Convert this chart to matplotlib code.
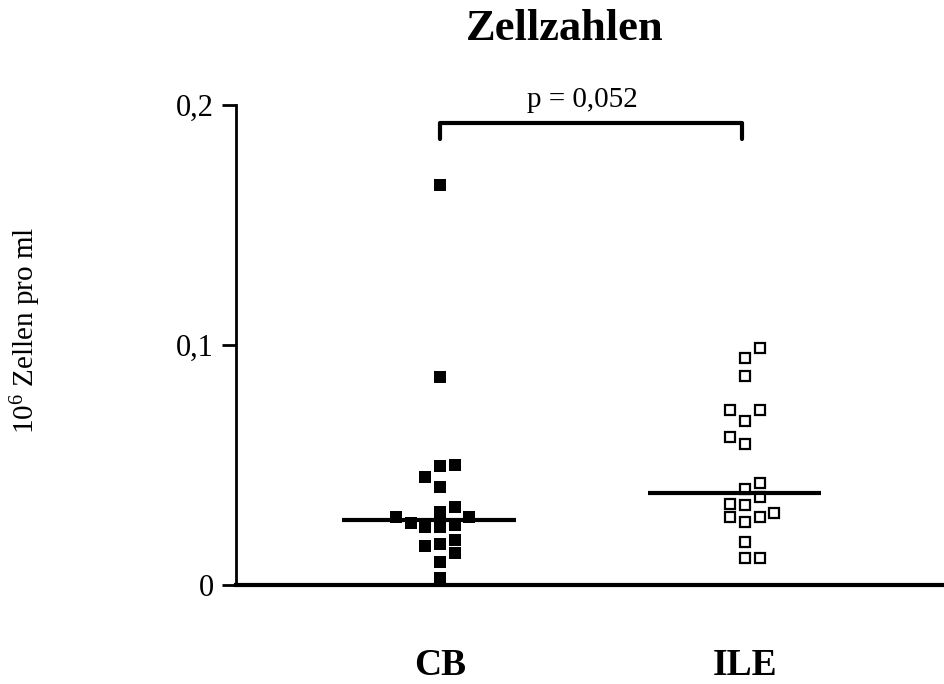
import matplotlib
matplotlib.use('Agg')
import matplotlib.pyplot as plt
import numpy as np

plt.rcParams['font.family'] = 'Liberation Serif'
plt.rcParams['mathtext.fontset'] = 'custom'
plt.rcParams['mathtext.rm'] = 'Liberation Serif'
plt.rcParams['mathtext.it'] = 'Liberation Serif:italic'

groups = ['CB', 'ILE']

# cell counts (10^6 cells per ml)
cb_values = [0.1667, 0.0867, 0.0500, 0.0496, 0.0450, 0.0410, 0.0325, 0.0304,
             0.0283, 0.0283, 0.0260, 0.0240, 0.0240, 0.0250, 0.0188, 0.0170,
             0.0163, 0.0133, 0.0096, 0.0030]
ile_values = [0.0988, 0.0946, 0.0870, 0.0730, 0.0730, 0.0685, 0.0617, 0.0588,
              0.0425, 0.0400, 0.0367, 0.0338, 0.0333, 0.0283, 0.0263, 0.0283,
              0.0300, 0.0180, 0.0113, 0.0113]

# column slot of each point in the scatter (dot plot arrangement)
cb_slots = [0, 0, 1, 0, -1, 0, 1, 0, -3, 2, -2, -1, 0, 1, 1, 0, -1, 1, 0, 0]
ile_slots = [1, 0, 0, -1, 1, 0, -1, 0, 1, 0, 1, -1, 0, -1, 0, 1, 2, 0, 0, 1]

p_text = 'p = 0,052'

fig = plt.figure(figsize=(9.44, 6.84), dpi=100)
ax = fig.add_axes([0.25, 0.1447, 0.75, 0.7018])

step = 0.048
xs_cb = 1 + np.array(cb_slots) * step
xs_ile = 2 + np.array(ile_slots) * step

ax.plot(xs_cb, cb_values, 's', color='black', markersize=8, markeredgewidth=0,
        zorder=3, clip_on=False)
ax.plot(xs_ile, ile_values, 's', markerfacecolor='white', markeredgecolor='black',
        markersize=6.8, markeredgewidth=1.6, zorder=3, clip_on=False)

# medians
for x, vals in zip([1, 2], [cb_values, ile_values]):
    ax.hlines(np.median(vals), x - 0.32, x + 0.25, color='black', lw=3, zorder=4)

ax.set_xlim(0.331, 2.652)
ax.set_ylim(0, 0.2)
ax.set_yticks([0, 0.1, 0.2])
ax.set_yticklabels(['0', '0,1', '0,2'])
ax.set_xticks([1, 2])
ax.set_xticklabels(groups, fontsize=27, fontweight='bold')
ax.tick_params(axis='x', length=0, pad=45)
ax.tick_params(axis='y', direction='out', length=10, width=2, labelsize=22, pad=6)

for s in ['top', 'right']:
    ax.spines[s].set_visible(False)
ax.spines['left'].set_linewidth(2)
ax.spines['bottom'].set_linewidth(3)

# significance bracket
yb = 0.2 - 0.0075
ax.plot([1, 1, 1.99, 1.99], [yb - 0.0065, yb, yb, yb - 0.0065], color='black',
        lw=3, solid_capstyle='round', clip_on=False)
ax.text(1.465, yb + 0.004, p_text, ha='center', va='bottom', fontsize=21)

fig.text(0.598, 0.958, 'Zellzahlen', ha='center', va='center', fontsize=32,
         fontweight='bold')
fig.text(0.027, 0.517, '10$^6$ Zellen pro ml', ha='center', va='center',
         rotation=90, fontsize=21)

fig.savefig('out.png', dpi=100)
